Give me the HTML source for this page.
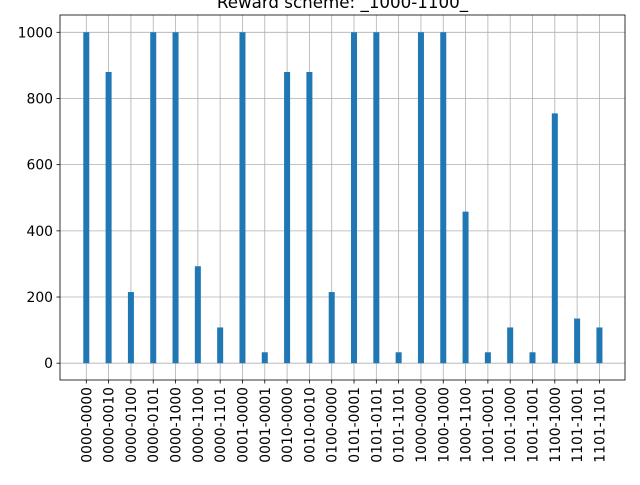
<!DOCTYPE html>
<html><head><meta charset="utf-8"><style>
body{margin:0;background:#fff}
svg text{font-family:"DejaVu Sans","Liberation Sans",sans-serif;font-size:13.9px;fill:#000}
</style></head><body>
<svg id="chart" width="640" height="480" xmlns="http://www.w3.org/2000/svg">
<text x="342.5" y="8" text-anchor="middle" font-size="16.7px" style="font-size:16.7px">Reward scheme: _1000-1100_</text>
<g id="grid"></g><g id="bars"></g><g id="axes"></g>
</svg>
<script>
const categories=["0000-0000","0000-0010","0000-0100","0000-0101","0000-1000","0000-1100","0000-1101","0001-0000","0001-0001","0010-0000","0010-0010","0100-0000","0101-0001","0101-0101","0101-1101","1000-0000","1000-1000","1000-1100","1001-0001","1001-1000","1001-1001","1100-1000","1101-1001","1101-1101"];
const values=[1000,880,215,1000,1000,293,108,1000,33,880,880,215,1000,1000,33,1000,1000,458,33,108,33,755,135,108];
const yTicks=[0,200,400,600,800,1000];
const NS="http://www.w3.org/2000/svg";
const L=60,R=625,T=15,B=380;
const xs=i=>86.3+i*22.31;
const ys=v=>363.2-v*0.3309;
function mk(tag,attrs,parent){const e=document.createElementNS(NS,tag);for(const k in attrs)e.setAttribute(k,attrs[k]);parent.appendChild(e);return e;}
const grid=document.getElementById('grid'),bars=document.getElementById('bars'),axes=document.getElementById('axes');
yTicks.forEach(t=>{
  const y=ys(t);
  const g=mk('line',{x1:L,x2:R,y1:y,y2:y,stroke:'#b0b0b0','stroke-width':0.8},grid);
  
  
  mk('line',{x1:L-3.5,x2:L,y1:y,y2:y,stroke:'#000','stroke-width':0.8},axes);
  const tx=mk('text',{x:L-7,y:y+5,'text-anchor':'end'},axes);tx.textContent=t;
  
  
});
categories.forEach((c,i)=>{
  const x=xs(i);
  const g=mk('line',{x1:x,x2:x,y1:T,y2:B,stroke:'#b0b0b0','stroke-width':0.8},grid);
  
  
  mk('line',{x1:x,x2:x,y1:B,y2:B+3.5,stroke:'#000','stroke-width':0.8},axes);
  const tx=mk('text',{x:0,y:0,'text-anchor':'end',transform:`translate(${x+5},${B+7}) rotate(-90)`},axes);tx.textContent=c;
  
  
  const y=ys(values[i]),y0=ys(0);
  const b=mk('rect',{x:x-3,y:y,width:6,height:y0-y,fill:'#1f77b4'},bars);
  
  
});
const fr=mk('rect',{x:L,y:T,width:R-L,height:B-T,fill:'none',stroke:'#000','stroke-width':0.8},axes);


</script>
</body></html>
